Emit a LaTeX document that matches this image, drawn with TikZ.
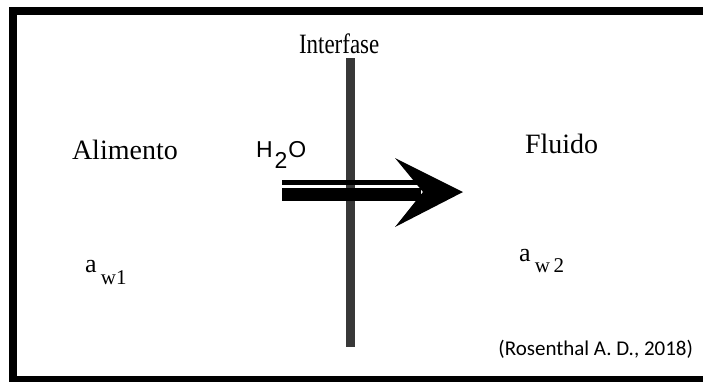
\documentclass[tikz,border=0pt]{standalone}
\usepackage{fontspec}
\setmainfont{Liberation Serif}
\newfontfamily\arialfont{Liberation Sans}
\newfontfamily\calibrifont{Carlito}

\begin{document}
\begin{tikzpicture}[x=1pt, y=-1pt,
    every node/.style={inner sep=0pt, outer sep=0pt, anchor=base west},
    rotulo/.style={font=\fontsize{28}{32}\selectfont},
    actividad/.style={font=\fontsize{26}{30}\selectfont},
    subind/.style={font=\fontsize{21}{24}\selectfont}]
            \useasboundingbox (0,0) rectangle (703,381);
            \clip (0,0) rectangle (703,381);

            % marco
            \draw[line width=8pt] (12.5,11) rectangle (712,380);

            % interfase
            \coordinate (bartop) at (350.5,58);
            \coordinate (barbot) at (350.5,347);
            \draw[line width=9pt, black!78] (bartop) -- (barbot);

            % flujo de agua
            \coordinate (flujo) at (282,192);
            \coordinate (punta) at (463,192);
            \fill ([yshift=12pt]flujo) rectangle ([xshift=-42pt, yshift=7pt]punta);
            \fill ([yshift=4pt]flujo) rectangle ([xshift=-42pt, yshift=-9pt]punta);
            \fill (punta) -- ++(-68,-34) -- ++(28,34) -- ++(-28,35) -- cycle;

            \node[rotulo, xscale=0.82] (interfase) at (299,53) {Interfase};
            \node[rotulo] (alimento) at (72,159) {Alimento};
            \node[rotulo] (fluido) at (525,153) {Fluido};
            \node[font=\arialfont\fontsize{23}{27}\selectfont] (agua) at (256,157)
                {H\kern2pt\raisebox{-11pt}{2}\kern1pt O};

            \node[actividad] (aw1) at (85,272) {a\,\raisebox{-12pt}{\fontsize{21}{24}\selectfont w1}};
            \node[actividad] (aw2) at (519,261) {a\,\raisebox{-11pt}{\fontsize{21}{24}\selectfont w\,2}};

            \node[anchor=base east, font=\calibrifont\fontsize{21}{25}\selectfont] (fuente) at (693,355)
                {(Rosenthal A. D., 2018)};
\end{tikzpicture}
\end{document}
